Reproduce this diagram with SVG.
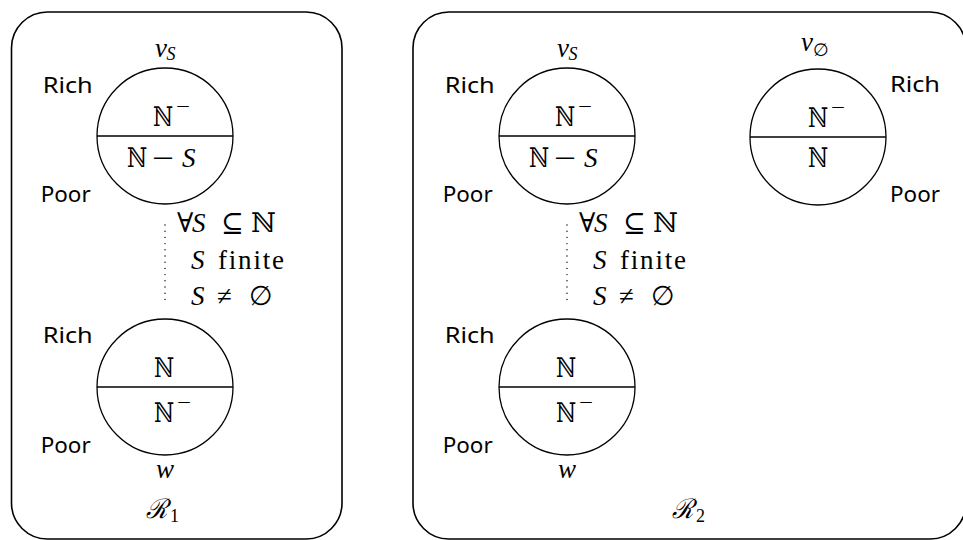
<svg xmlns="http://www.w3.org/2000/svg" width="963" height="540" viewBox="0 0 963 540">
<style>
.box{fill:none;stroke:#000;stroke-width:1.6}
.node circle{fill:none;stroke:#000;stroke-width:1.3}
.node line{stroke:#000;stroke-width:1.3}
.lbl{font-family:"Noto Sans","Liberation Sans",sans-serif;font-size:21px;fill:#000}
.m{font-family:"Liberation Serif","DejaVu Serif",serif;font-size:27px;fill:#000}
.c{font-family:"Liberation Serif","DejaVu Serif",serif;font-size:27px;fill:#000}
.i{font-style:italic}
.sup{font-size:20px}
.sub{font-size:18px}
.dot{stroke:#000;stroke-width:1.4;stroke-linecap:round;stroke-dasharray:0 6.2;fill:none}
</style>
<rect class="box" x="11.5" y="12" width="330.5" height="527" rx="36"/>
<rect class="box" x="413" y="12" width="553" height="527" rx="36"/>
<g id="vS1" class="node">
<circle cx="165" cy="136" r="68"/>
<line x1="97" y1="136" x2="233" y2="136"/>
<text class="lbl" x="42.7" y="93" textLength="50" lengthAdjust="spacingAndGlyphs">Rich</text>
<text class="lbl" x="40.7" y="202" textLength="50" lengthAdjust="spacingAndGlyphs">Poor</text>
<text class="m i" x="155" y="57" font-size="24">v</text>
<text class="m i sub" x="166.5" y="60">S</text>
<text class="m" x="153" y="126" textLength="20" lengthAdjust="spacingAndGlyphs">ℕ</text>
<text class="m sup" x="176" y="113" textLength="14" lengthAdjust="spacingAndGlyphs">−</text>
<text class="m" x="127" y="167" textLength="20" lengthAdjust="spacingAndGlyphs">ℕ</text>
<text class="m" x="152" y="167" textLength="22" lengthAdjust="spacingAndGlyphs">−</text>
<text class="m i" x="182" y="167">S</text>
</g>
<g id="w1" class="node">
<circle cx="165" cy="387" r="68"/>
<line x1="97" y1="387" x2="233" y2="387"/>
<text class="lbl" x="42.7" y="343" textLength="50" lengthAdjust="spacingAndGlyphs">Rich</text>
<text class="lbl" x="40.7" y="453" textLength="50" lengthAdjust="spacingAndGlyphs">Poor</text>
<text class="m" x="154" y="377" textLength="20" lengthAdjust="spacingAndGlyphs">ℕ</text>
<text class="m" x="154" y="422" textLength="20" lengthAdjust="spacingAndGlyphs">ℕ</text>
<text class="m sup" x="177" y="409" textLength="14" lengthAdjust="spacingAndGlyphs">−</text>
<text class="m i" x="165" y="478" text-anchor="middle" font-size="25">w</text>
<text class="m i" x="146" y="518" font-size="25" textLength="22" lengthAdjust="spacingAndGlyphs">ℛ</text>
<text class="m sub" x="170" y="522">1</text>
</g>
<g id="vS2" class="node">
<circle cx="567" cy="136" r="68"/>
<line x1="499" y1="136" x2="635" y2="136"/>
<text class="lbl" x="444.7" y="93" textLength="50" lengthAdjust="spacingAndGlyphs">Rich</text>
<text class="lbl" x="442.7" y="202" textLength="50" lengthAdjust="spacingAndGlyphs">Poor</text>
<text class="m i" x="557" y="57" font-size="24">v</text>
<text class="m i sub" x="568.5" y="60">S</text>
<text class="m" x="555" y="126" textLength="20" lengthAdjust="spacingAndGlyphs">ℕ</text>
<text class="m sup" x="578" y="113" textLength="14" lengthAdjust="spacingAndGlyphs">−</text>
<text class="m" x="529" y="167" textLength="20" lengthAdjust="spacingAndGlyphs">ℕ</text>
<text class="m" x="554" y="167" textLength="22" lengthAdjust="spacingAndGlyphs">−</text>
<text class="m i" x="584" y="167">S</text>
</g>
<g id="vEmpty" class="node">
<circle cx="818" cy="137" r="68"/>
<line x1="750" y1="137" x2="886" y2="137"/>
<text class="lbl" x="890" y="92" textLength="50" lengthAdjust="spacingAndGlyphs">Rich</text>
<text class="lbl" x="890" y="202" textLength="50" lengthAdjust="spacingAndGlyphs">Poor</text>
<text class="m i" x="801" y="51" font-size="24">v</text>
<text class="m sub" x="813" y="56">∅</text>
<text class="m" x="808" y="127" textLength="20" lengthAdjust="spacingAndGlyphs">ℕ</text>
<text class="m sup" x="831" y="114" textLength="14" lengthAdjust="spacingAndGlyphs">−</text>
<text class="m" x="808" y="167" textLength="20" lengthAdjust="spacingAndGlyphs">ℕ</text>
</g>
<g id="w2" class="node">
<circle cx="567" cy="387" r="68"/>
<line x1="499" y1="387" x2="635" y2="387"/>
<text class="lbl" x="444.7" y="343" textLength="50" lengthAdjust="spacingAndGlyphs">Rich</text>
<text class="lbl" x="442.7" y="453" textLength="50" lengthAdjust="spacingAndGlyphs">Poor</text>
<text class="m" x="556" y="377" textLength="20" lengthAdjust="spacingAndGlyphs">ℕ</text>
<text class="m" x="556" y="422" textLength="20" lengthAdjust="spacingAndGlyphs">ℕ</text>
<text class="m sup" x="579" y="409" textLength="14" lengthAdjust="spacingAndGlyphs">−</text>
<text class="m i" x="567" y="478" text-anchor="middle" font-size="25">w</text>
<text class="m i" x="672" y="518" font-size="25" textLength="22" lengthAdjust="spacingAndGlyphs">ℛ</text>
<text class="m sub" x="696" y="522">2</text>
</g>
<g id="connectors">
<line class="dot" x1="165" y1="225" x2="165" y2="300"/>
<line class="dot" x1="567" y1="225" x2="567" y2="300"/>
<text class="c" y="232"><tspan x="177">∀</tspan><tspan class="i" x="192">S</tspan><tspan x="221">⊆</tspan><tspan x="251">ℕ</tspan></text>
<text class="c" y="269"><tspan class="i" x="191">S</tspan><tspan x="218" textLength="66" lengthAdjust="spacing">finite</tspan></text>
<text class="c" y="305"><tspan class="i" x="191">S</tspan><tspan x="217">≠</tspan><tspan x="249">∅</tspan></text>
<text class="c" y="232"><tspan x="579">∀</tspan><tspan class="i" x="594">S</tspan><tspan x="623">⊆</tspan><tspan x="653">ℕ</tspan></text>
<text class="c" y="269"><tspan class="i" x="593">S</tspan><tspan x="620" textLength="66" lengthAdjust="spacing">finite</tspan></text>
<text class="c" y="305"><tspan class="i" x="593">S</tspan><tspan x="619">≠</tspan><tspan x="651">∅</tspan></text>
</g>
</svg>
